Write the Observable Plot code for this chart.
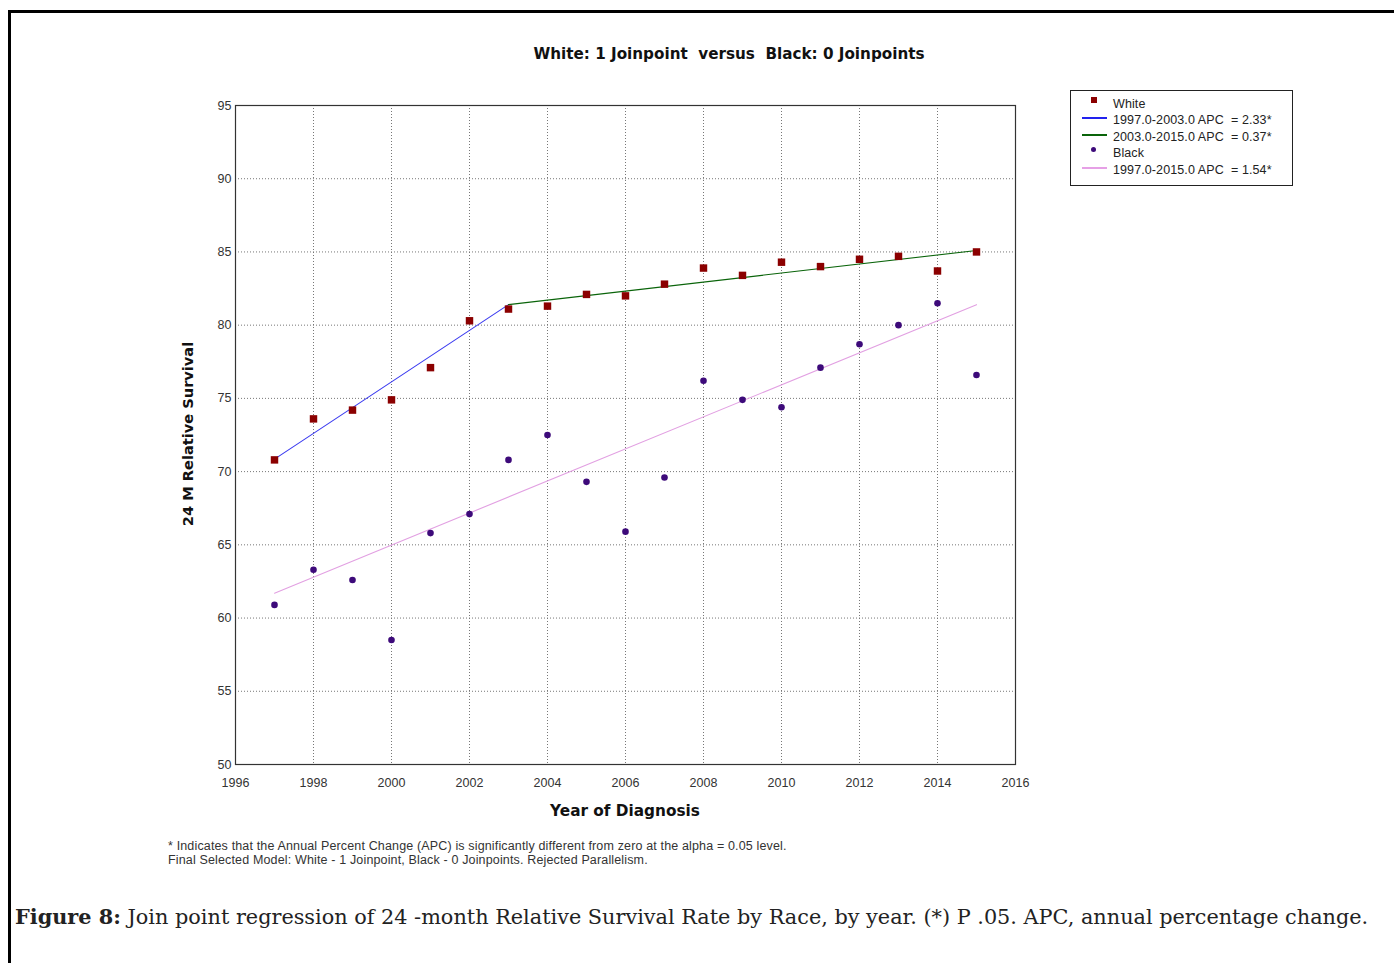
<!DOCTYPE html>
<html>
<head>
<meta charset="utf-8">
<script src="https://cdn.jsdelivr.net/npm/d3@7"></script>
<script src="https://cdn.jsdelivr.net/npm/@observablehq/plot@0.6"></script>
<style>
  html, body { margin: 0; padding: 0; background: #fff; width: 1394px; height: 963px; overflow: hidden; }
  #frame { position: absolute; left: 8px; top: 10px; width: 1400px; height: 1000px; border-left: 3px solid #000; border-top: 3px solid #000; box-sizing: border-box; }
  #chart { position: absolute; left: 0; top: 0; }
  .abs { position: absolute; white-space: pre; }
  #title { left: 0; width: 1458px; top: 45px; text-align: center; font: bold 15.2px "DejaVu Sans", sans-serif; color: #111; }
  #ylab { left: 187px; top: 434px; transform: translate(-50%, -50%) rotate(-90deg); font: bold 14.6px "DejaVu Sans", sans-serif; color: #111; }
  #xlab { left: 625px; top: 802px; transform: translateX(-50%); font: bold 15.3px "DejaVu Sans", sans-serif; color: #111; }
  #legend { left: 1070px; top: 90px; width: 223px; height: 96px; border: 1px solid #222; box-sizing: border-box; background: #fff; font: 12.5px "Liberation Sans", Arial, sans-serif; letter-spacing: 0.1px; color: #222; }
  .row { position: absolute; left: 42px; white-space: pre; line-height: 14px; }
  .sym { position: absolute; }
  #foot { left: 168px; top: 839px; font: 12.5px "Liberation Sans", Arial, sans-serif; letter-spacing: 0.15px; color: #333; line-height: 14px; }
  #caption { left: 15px; top: 904px; font: 20.8px "DejaVu Serif", Georgia, serif; color: #222; }
</style>
</head>
<body>
<div id="frame"></div>
<div id="chart"></div>
<div id="title" class="abs">White: 1 Joinpoint  versus  Black: 0 Joinpoints</div>
<div id="ylab" class="abs">24 M Relative Survival</div>
<div id="xlab" class="abs">Year of Diagnosis</div>
<div id="legend" class="abs"></div>
<div id="foot" class="abs">* Indicates that the Annual Percent Change (APC) is significantly different from zero at the alpha = 0.05 level.
Final Selected Model: White - 1 Joinpoint, Black - 0 Joinpoints. Rejected Parallelism.</div>
<div id="caption" class="abs"><b>Figure 8:</b> Join point regression of 24 -month Relative Survival Rate by Race, by year. (*) P .05. APC, annual percentage change.</div>
<script>
// ---- data ----
const years = [1997,1998,1999,2000,2001,2002,2003,2004,2005,2006,2007,2008,2009,2010,2011,2012,2013,2014,2015];
const whiteObs = [70.8,73.6,74.2,74.9,77.1,80.3,81.1,81.3,82.1,82.0,82.8,83.9,83.4,84.3,84.0,84.5,84.7,83.7,85.0];
const blackObs = [60.9,63.3,62.6,58.5,65.8,67.1,70.8,72.5,69.3,65.9,69.6,76.2,74.9,74.4,77.1,78.7,80.0,81.5,76.6];
// fitted segments (endpoints)
const whiteSeg1Years = [1997, 2003];
const whiteSeg1Vals = [70.85, 81.4];
const whiteSeg2Years = [2003, 2015];
const whiteSeg2Vals = [81.4, 85.1];
const blackFitYears = [1997, 2015];
const blackFitVals = [61.7, 81.4];
const xTicks = [1996,1998,2000,2002,2004,2006,2008,2010,2012,2014,2016];
const yTicks = [50,55,60,65,70,75,80,85,90,95];
const legendItems = [
  {label: "White", kind: "square", color: "#8b0000"},
  {label: "1997.0-2003.0 APC  = 2.33*", kind: "line", color: "#2222ee"},
  {label: "2003.0-2015.0 APC  = 0.37*", kind: "line", color: "#0a640a"},
  {label: "Black", kind: "dot", color: "#3d0a7a"},
  {label: "1997.0-2015.0 APC  = 1.54*", kind: "line", color: "#e6a0e6"}
];
const colors = {white: "#8b0000", seg1: "#3a3af0", seg2: "#0a640a", black: "#3d0a7a", blackFit: "#e2a0e2"};

const white = years.map((y, i) => ({year: y, v: whiteObs[i]}));
const black = years.map((y, i) => ({year: y, v: blackObs[i]}));
const seg1 = whiteSeg1Years.map((y, i) => ({year: y, v: whiteSeg1Vals[i]}));
const seg2 = whiteSeg2Years.map((y, i) => ({year: y, v: whiteSeg2Vals[i]}));
const bfit = blackFitYears.map((y, i) => ({year: y, v: blackFitVals[i]}));

const chart = Plot.plot({
  width: 1394,
  height: 830,
  marginLeft: 235,
  marginRight: 379,
  marginTop: 105,
  marginBottom: 66,
  style: {fontFamily: "'Liberation Sans', Arial, sans-serif", fontSize: "12.5px", color: "#333", background: "transparent"},
  x: {domain: [1996, 2016], ticks: xTicks, tickFormat: "d"},
  y: {domain: [50, 95], ticks: yTicks},
  marks: [
    Plot.gridX(xTicks, {stroke: "#777", strokeOpacity: 1, strokeDasharray: "1,2"}),
    Plot.gridY(yTicks, {stroke: "#777", strokeOpacity: 1, strokeDasharray: "1,2"}),
    Plot.frame({stroke: "#333", strokeWidth: 1.2}),
    Plot.axisX(xTicks, {tickSize: 0, tickPadding: 14, tickFormat: "d", label: null, fontSize: 12.5, fill: "#333"}),
    Plot.axisY(yTicks, {tickSize: 0, tickPadding: 4, label: null, fontSize: 12.5, fill: "#333"}),
    Plot.line(seg1, {x: "year", y: "v", stroke: colors.seg1, strokeWidth: 1.1}),
    Plot.line(seg2, {x: "year", y: "v", stroke: colors.seg2, strokeWidth: 1.1}),
    Plot.line(bfit, {x: "year", y: "v", stroke: colors.blackFit, strokeWidth: 1.1}),
    Plot.dot(white, {x: "year", y: "v", symbol: "square", r: 4.2, fill: colors.white, stroke: "none"}),
    Plot.dot(black, {x: "year", y: "v", r: 3.3, fill: colors.black, stroke: "none"})
  ]
});
document.getElementById("chart").appendChild(chart);

// legend
const leg = document.getElementById("legend");
const rowY = [7, 23, 40, 56, 73];
legendItems.forEach((it, i) => {
  const sym = document.createElement("div");
  sym.className = "sym";
  if (it.kind === "square") {
    Object.assign(sym.style, {left: "20px", top: (rowY[i] - 1) + "px", width: "6px", height: "6px", background: it.color});
  } else if (it.kind === "dot") {
    Object.assign(sym.style, {left: "20px", top: (rowY[i]) + "px", width: "5px", height: "5px", borderRadius: "50%", background: it.color});
  } else {
    Object.assign(sym.style, {left: "11px", top: (rowY[i] + 3) + "px", width: "25px", height: "2px", background: it.color});
  }
  leg.appendChild(sym);
  const t = document.createElement("div");
  t.className = "row";
  t.style.top = (rowY[i] - 1) + "px";
  t.textContent = it.label;
  leg.appendChild(t);
});
</script>
</body>
</html>
